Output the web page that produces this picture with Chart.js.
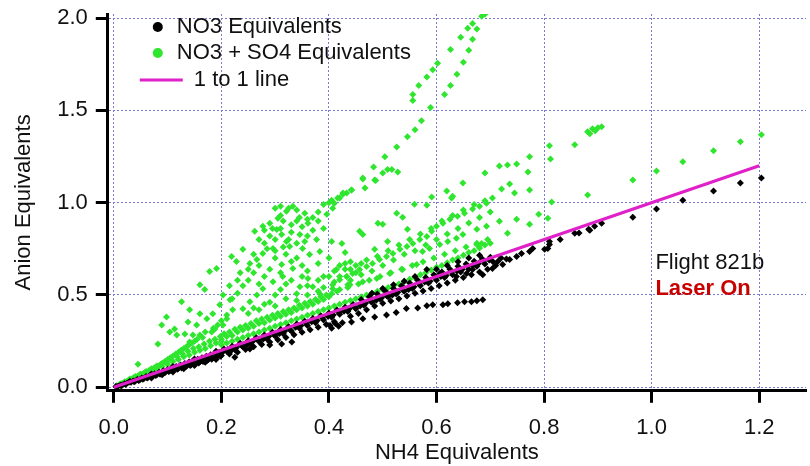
<!DOCTYPE html>
<html>
<head>
<meta charset="utf-8">
<script src="https://cdn.jsdelivr.net/npm/chart.js@4.4.0/dist/chart.umd.min.js"></script>
<style>
  html, body { margin: 0; padding: 0; background: #fff; }
  #wrap { width: 810px; height: 466px; }
</style>
</head>
<body>
<div id="wrap"><canvas id="chart" width="810" height="466"></canvas></div>
<script>
// tick values
const xTicks = [0, 0.2, 0.4, 0.6, 0.8, 1.0, 1.2];
const yTicks = [0, 0.5, 1.0, 1.5, 2.0];

// NO3 equivalents vs NH4 equivalents  [x, y]
const no3Points = [
  [0.004,0.004],[0.008,0.006],[0.012,0.011],[0.016,0.013],[0.02,0.019],[0.024,0.02],[0.028,0.027],[0.032,0.027],
  [0.036,0.034],[0.04,0.034],[0.044,0.043],[0.048,0.04],[0.052,0.05],[0.056,0.047],[0.06,0.058],[0.064,0.054],
  [0.068,0.066],[0.072,0.06],[0.076,0.074],[0.08,0.068],[0.084,0.081],[0.088,0.074],[0.092,0.09],[0.096,0.082],
  [0.1,0.097],[0.104,0.088],[0.108,0.105],[0.112,0.095],[0.116,0.113],[0.12,0.102],[0.124,0.121],[0.128,0.108],
  [0.132,0.129],[0.136,0.116],[0.14,0.137],[0.144,0.122],[0.148,0.145],[0.152,0.13],[0.156,0.152],[0.16,0.138],
  [0.164,0.16],[0.168,0.144],[0.172,0.168],[0.176,0.15],[0.18,0.176],[0.184,0.158],[0.188,0.184],[0.192,0.165],
  [0.196,0.19],[0.2,0.172],[0.07,0.05],[0.09,0.068],[0.11,0.083],[0.13,0.1],[0.15,0.118],[0.17,0.135],[0.19,0.15],
  [0.03,0.033],[0.07,0.072],[0.11,0.113],[0.15,0.153],[0.19,0.195],
  [0.006,0.003],[0.014,0.009],[0.022,0.016],[0.038,0.03],[0.046,0.037],[0.054,0.044],[0.062,0.05],[0.078,0.064],
  [0.086,0.07],[0.094,0.079],[0.102,0.085],[0.118,0.098],[0.126,0.105],[0.134,0.112],[0.142,0.118],[0.158,0.132],
  [0.166,0.14],[0.174,0.146],[0.182,0.152],[0.198,0.168],
  [0.205,0.208],[0.21,0.195],[0.215,0.18],[0.22,0.222],[0.225,0.205],[0.225,0.163],[0.23,0.19],[0.235,0.238],
  [0.24,0.22],[0.245,0.205],[0.25,0.252],[0.253,0.207],[0.255,0.235],[0.26,0.22],[0.265,0.268],[0.27,0.25],
  [0.275,0.232],[0.28,0.283],[0.285,0.262],[0.29,0.229],[0.29,0.245],[0.295,0.298],[0.3,0.278],[0.305,0.258],
  [0.31,0.313],[0.312,0.234],[0.315,0.29],[0.32,0.27],[0.325,0.328],[0.331,0.245],[0.33,0.305],[0.335,0.285],
  [0.34,0.343],[0.345,0.32],[0.35,0.298],[0.355,0.358],[0.36,0.335],[0.365,0.312],[0.37,0.373],[0.375,0.35],
  [0.38,0.325],[0.385,0.388],[0.39,0.365],[0.395,0.34],[0.4,0.403],[0.402,0.335],[0.405,0.38],[0.405,0.32],
  [0.41,0.355],[0.412,0.345],[0.415,0.418],[0.418,0.33],[0.42,0.395],[0.425,0.35],[0.43,0.433],[0.435,0.41],
  [0.44,0.385],[0.445,0.448],[0.45,0.425],[0.455,0.4],
  [0.202,0.19],[0.212,0.205],[0.218,0.198],[0.228,0.215],[0.238,0.225],[0.248,0.23],[0.258,0.248],[0.268,0.255],
  [0.278,0.262],[0.288,0.275],[0.298,0.285],[0.308,0.292],[0.318,0.305],[0.328,0.312],[0.338,0.325],[0.348,0.335],
  [0.358,0.345],[0.368,0.355],[0.378,0.362],[0.388,0.375],[0.398,0.385],[0.408,0.392],[0.418,0.405],[0.428,0.412],
  [0.438,0.425],[0.448,0.433],[0.458,0.44],[0.468,0.455],[0.478,0.465],[0.488,0.472],[0.498,0.485],[0.508,0.495],
  [0.518,0.5],[0.528,0.515],[0.538,0.525],[0.548,0.53],[0.558,0.545],[0.568,0.56],[0.578,0.57],[0.588,0.575],
  [0.598,0.59],[0.608,0.6],[0.618,0.605],[0.628,0.625],[0.638,0.63],[0.648,0.64],[0.658,0.655],[0.668,0.66],
  [0.678,0.67],[0.688,0.685],[0.698,0.69],
  [0.442,0.354],[0.463,0.371],[0.485,0.381],[0.507,0.392],[0.525,0.405],[0.544,0.427],[0.565,0.43],[0.582,0.441],
  [0.593,0.447],[0.612,0.447],[0.621,0.452],[0.639,0.458],[0.652,0.463],[0.665,0.463],[0.675,0.469],[0.686,0.474],
  [0.46,0.475],[0.465,0.445],[0.47,0.42],[0.475,0.49],[0.48,0.462],[0.485,0.44],[0.49,0.505],[0.495,0.478],
  [0.5,0.455],[0.505,0.52],[0.51,0.49],[0.515,0.468],[0.52,0.535],[0.525,0.505],[0.53,0.48],[0.535,0.55],
  [0.54,0.52],[0.545,0.495],[0.55,0.565],[0.555,0.535],[0.56,0.51],[0.565,0.58],[0.57,0.55],[0.575,0.522],
  [0.58,0.595],[0.582,0.638],[0.585,0.565],[0.59,0.535],[0.595,0.61],[0.6,0.58],[0.606,0.616],[0.605,0.55],
  [0.61,0.625],[0.615,0.595],[0.62,0.565],[0.625,0.64],[0.63,0.61],[0.637,0.6],[0.635,0.58],[0.64,0.655],
  [0.645,0.625],[0.65,0.595],[0.656,0.616],[0.655,0.668],[0.66,0.64],[0.667,0.638],[0.665,0.61],[0.67,0.682],
  [0.675,0.655],[0.68,0.625],[0.686,0.61],[0.685,0.695],[0.69,0.668],[0.695,0.64],[0.7,0.705],[0.704,0.643],
  [0.705,0.68],[0.71,0.66],[0.714,0.681],[0.72,0.7],[0.723,0.665],
  [0.48,0.51],[0.5,0.535],[0.52,0.555],[0.54,0.575],[0.56,0.6],[0.6,0.64],[0.62,0.66],[0.64,0.68],[0.66,0.7],[0.68,0.715],
  [0.73,0.695],[0.736,0.692],[0.749,0.708],[0.758,0.725],[0.773,0.736],[0.779,0.752],[0.801,0.747],[0.807,0.752],
  [0.81,0.774],[0.81,0.79],[0.83,0.8],[0.857,0.834],[0.865,0.835],[0.883,0.856],[0.885,0.85],[0.894,0.872],
  [0.907,0.888],[0.965,0.921],[1.009,0.965],[1.058,1.013],[1.115,1.063],[1.165,1.106],[1.204,1.134]
];

// NO3 + SO4 equivalents vs NH4 equivalents  [x, y]
const no3So4Points = [
  [0.005,0.008],[0.01,0.013],[0.015,0.02],[0.02,0.026],[0.02,0.03],[0.025,0.034],[0.03,0.038],[0.03,0.045],
  [0.035,0.048],[0.04,0.05],[0.04,0.058],[0.045,0.062],[0.045,0.125],[0.05,0.063],[0.05,0.072],[0.055,0.075],
  [0.06,0.075],[0.06,0.085],[0.065,0.09],[0.07,0.088],[0.07,0.1],[0.075,0.105],[0.08,0.1],[0.08,0.115],
  [0.082,0.234],[0.085,0.12],[0.089,0.338],[0.09,0.112],[0.09,0.13],[0.095,0.14],[0.098,0.381],[0.1,0.125],
  [0.1,0.15],[0.104,0.3],[0.105,0.16],[0.11,0.14],[0.11,0.17],[0.113,0.316],[0.115,0.18],[0.117,0.283],
  [0.12,0.15],[0.12,0.19],[0.125,0.2],[0.126,0.463],[0.13,0.165],[0.13,0.21],[0.132,0.289],[0.135,0.22],
  [0.138,0.354],[0.14,0.175],[0.14,0.23],[0.141,0.42],[0.141,0.245],[0.145,0.24],[0.147,0.283],[0.15,0.19],
  [0.15,0.25],[0.154,0.338],[0.155,0.26],[0.16,0.2],[0.16,0.283],[0.16,0.398],[0.16,0.556],[0.165,0.27],
  [0.169,0.529],[0.17,0.21],[0.17,0.3],[0.173,0.371],[0.178,0.627],[0.18,0.225],[0.182,0.3],[0.184,0.398],
  [0.185,0.32],[0.188,0.316],[0.19,0.24],[0.191,0.643],[0.193,0.338],[0.197,0.447],[0.2,0.25],[0.2,0.36],
  [0.203,0.338],[0.203,0.5],[0.21,0.392],[0.21,0.371],[0.216,0.474],[0.221,0.42],
  [0.012,0.018],[0.018,0.022],[0.028,0.04],[0.038,0.055],[0.048,0.068],[0.058,0.08],[0.068,0.095],[0.078,0.11],
  [0.088,0.125],[0.098,0.135],[0.108,0.145],[0.118,0.165],[0.128,0.18],[0.138,0.195],[0.148,0.21],[0.158,0.22],
  [0.168,0.235],[0.178,0.25],[0.188,0.26],[0.198,0.275],[0.205,0.29],[0.215,0.3],[0.225,0.315],[0.235,0.325],
  [0.245,0.335],[0.255,0.345],[0.265,0.36],[0.275,0.37],[0.285,0.38],[0.295,0.39],[0.305,0.4],[0.315,0.41],
  [0.325,0.42],[0.335,0.43],[0.345,0.445],[0.355,0.455],[0.365,0.465],[0.375,0.475],[0.385,0.49],[0.395,0.5],
  [0.415,0.52],[0.435,0.54],[0.455,0.56],[0.475,0.58],[0.495,0.6],[0.515,0.62],[0.535,0.64],[0.555,0.66],
  [0.575,0.68],[0.595,0.7],[0.615,0.72],[0.635,0.74],[0.655,0.76],[0.675,0.78],[0.695,0.8],
  [0.2,0.23],[0.2,0.26],[0.21,0.24],[0.21,0.275],[0.22,0.25],[0.22,0.28],[0.23,0.26],[0.23,0.3],[0.24,0.27],
  [0.24,0.31],[0.25,0.28],[0.25,0.32],[0.26,0.29],[0.26,0.33],[0.27,0.3],[0.27,0.345],[0.28,0.31],[0.28,0.35],
  [0.29,0.32],[0.29,0.365],[0.3,0.33],[0.3,0.375],[0.31,0.34],[0.31,0.385],[0.32,0.35],[0.32,0.395],[0.33,0.36],
  [0.33,0.405],[0.34,0.37],[0.34,0.42],[0.35,0.38],[0.35,0.43],[0.36,0.39],[0.36,0.44],[0.37,0.4],[0.37,0.45],
  [0.38,0.41],[0.38,0.465],[0.39,0.42],[0.39,0.475],[0.4,0.43],[0.4,0.49],[0.405,0.507],[0.41,0.44],[0.42,0.529],
  [0.42,0.45],[0.43,0.46],[0.439,0.556],[0.44,0.47],[0.45,0.48],[0.463,0.572],[0.46,0.49],[0.47,0.5],[0.48,0.51],
  [0.489,0.589],[0.49,0.52],[0.5,0.53],[0.51,0.54],[0.513,0.616],[0.52,0.55],[0.53,0.56],[0.537,0.638],[0.54,0.575],
  [0.55,0.585],[0.56,0.595],[0.563,0.665],[0.57,0.61],[0.58,0.62],[0.59,0.635],[0.6,0.65],[0.61,0.66],[0.62,0.675],
  [0.63,0.69],[0.64,0.7],[0.65,0.715],[0.66,0.73],[0.67,0.74],[0.68,0.755],[0.69,0.77],[0.7,0.78],
  [0.24,0.425],[0.253,0.463],[0.266,0.5],[0.277,0.534],[0.296,0.572],[0.314,0.6],[0.312,0.665],[0.33,0.681],
  [0.333,0.643],[0.351,0.752],[0.364,0.719],[0.377,0.801],[0.383,0.736],[0.405,0.79],[0.414,0.638],[0.433,0.6],
  [0.361,0.589],[0.346,0.545],[0.37,0.545],[0.34,0.507],[0.383,0.507],[0.407,0.534],[0.435,0.556],
  [0.3,0.5],[0.31,0.53],[0.32,0.56],[0.33,0.58],[0.35,0.6],[0.36,0.55],[0.38,0.58],[0.39,0.54],[0.4,0.6],
  [0.41,0.63],[0.42,0.6],[0.43,0.67],[0.44,0.64],[0.46,0.67],[0.29,0.46],[0.3,0.44],[0.32,0.48],[0.34,0.47],
  [0.36,0.5],[0.38,0.52],[0.26,0.43],[0.28,0.45],[0.25,0.4],[0.27,0.42],
  [0.333,0.981],[0.321,0.954],[0.355,0.943],[0.361,0.888],[0.396,0.937],[0.407,0.97],[0.42,1.025],[0.433,1.052],
  [0.305,0.916],[0.29,0.888],[0.277,0.872],[0.262,0.845],[0.303,0.855],[0.312,0.828],[0.321,0.79],[0.346,0.828],
  [0.327,0.763],[0.296,0.752],[0.277,0.725],[0.266,0.692],[0.253,0.67],[0.24,0.747],[0.219,0.708],[0.228,0.681],
  [0.3,0.97],[0.31,0.93],[0.34,0.9],[0.35,0.87],[0.33,0.84],[0.36,0.82],[0.37,0.85],[0.38,0.9],[0.39,0.86],
  [0.3,0.8],[0.28,0.78],[0.29,0.82],[0.27,0.8],[0.32,0.72],[0.34,0.7],[0.35,0.66],[0.3,0.7],[0.29,0.64],
  [0.31,0.62],[0.26,0.62],[0.28,0.6],[0.25,0.58],[0.27,0.56],[0.24,0.55],[0.23,0.51],[0.22,0.48],[0.36,0.63],
  [0.38,0.67],[0.4,0.7],[0.39,0.6],[0.41,0.57],[0.42,0.66],[0.44,0.68],[0.43,0.73],[0.45,0.62],
  [0.31,0.98],[0.325,0.97],[0.34,0.96],[0.345,0.92],[0.315,0.9],[0.33,0.88],[0.36,0.91],[0.37,0.92],[0.38,0.95],
  [0.39,0.99],[0.4,1.0],[0.28,0.85],[0.295,0.86],[0.31,0.86],[0.325,0.8],[0.34,0.78],[0.355,0.79],[0.285,0.75],
  [0.3,0.74],[0.315,0.76],[0.26,0.72],[0.27,0.66],[0.25,0.64],[0.235,0.62],[0.23,0.58],[0.215,0.55],
  [0.407,0.556],[0.42,0.583],[0.433,0.6],[0.444,0.616],[0.457,0.638],[0.47,0.654],[0.481,0.67],[0.494,0.692],
  [0.507,0.708],[0.519,0.725],[0.532,0.747],[0.545,0.763],[0.556,0.779],[0.569,0.801],[0.582,0.817],[0.591,0.845],
  [0.6,0.872],[0.612,0.888],[0.625,0.91],[0.639,0.926],[0.652,0.943],[0.667,0.965],[0.68,0.981],[0.693,0.997],
  [0.704,1.025],[0.43,0.64],[0.45,0.66],[0.47,0.69],[0.49,0.71],[0.51,0.74],[0.53,0.77],[0.55,0.8],[0.57,0.83],
  [0.59,0.86],[0.61,0.9],[0.63,0.93],[0.65,0.96],[0.67,0.99],[0.69,1.01],[0.44,0.58],[0.46,0.61],[0.48,0.63],
  [0.5,0.66],[0.52,0.69],[0.54,0.72],[0.56,0.74],[0.58,0.77],[0.6,0.8],[0.62,0.83],[0.64,0.86],[0.66,0.89],
  [0.68,0.92],[0.7,0.95],
  [0.717,0.899],[0.693,0.872],[0.675,0.856],[0.649,0.828],[0.637,0.807],[0.621,0.79],[0.606,0.774],[0.587,0.752],
  [0.574,0.736],[0.684,0.779],[0.675,0.774],[0.732,0.834],[0.773,0.883],[0.749,0.91],[0.79,0.937],[0.807,0.916],
  [0.814,1.003],[0.881,1.041],
  [0.526,0.943],[0.537,0.921],[0.491,0.888],[0.5,0.883],[0.457,0.845],[0.463,0.828],[0.546,0.856],[0.424,0.779],
  [0.485,0.747],[0.509,0.79],[0.619,1.063],[0.628,1.025],[0.591,1.03],[0.559,0.992],[0.582,0.986],
  [0.649,1.106],[0.69,1.161],[0.717,1.199],[0.732,1.204],[0.749,1.21],[0.773,1.248],[0.77,1.166],[0.736,1.101],
  [0.721,1.074],[0.745,1.052],[0.773,1.068],[0.63,1.035],
  [0.81,1.308],[0.857,1.313],[0.812,1.237],
  [0.881,1.384],[0.89,1.4],[0.9,1.406],[0.907,1.411],[0.885,1.373],[0.895,1.39],
  [0.965,1.123],[1.009,1.172],[1.058,1.221],[1.115,1.281],[1.165,1.33],[1.204,1.368],
  [0.41,0.997],[0.416,1.025],[0.426,1.052],[0.442,1.068],[0.467,1.079],[0.463,1.133],[0.485,1.123],[0.5,1.16],
  [0.509,1.18],[0.517,1.18],[0.528,1.166],[0.487,1.12],[0.405,1.013],
  [0.426,1.046],[0.442,1.068],[0.463,1.128],[0.483,1.193],[0.504,1.248],[0.526,1.302],[0.546,1.357],[0.56,1.395],
  [0.572,1.444],[0.589,1.515],[0.615,1.586],[0.626,1.635],[0.638,1.695],[0.65,1.76],[0.66,1.826],[0.667,1.885],
  [0.675,1.94],
  [0.556,1.553],[0.556,1.586],[0.567,1.635],[0.582,1.68],[0.593,1.72],[0.602,1.755],[0.626,1.83],[0.645,1.896],
  [0.658,1.945],[0.667,1.97],[0.684,2.01],[0.69,2.02]
];

// 1 to 1 reference line
const lineX = [0, 1.2];
const lineY = [0, 1.2];

const seriesNames = ['NO3 Equivalents', 'NO3 + SO4 Equivalents', '1 to 1 line'];
const seriesColors = ['#000000', '#2ee62e', '#e020c8'];

const FONT = '"Liberation Sans", Arial, sans-serif';
const gridColor = '#7a7ad0';

function toXY(pts) {
  return pts.map(p => ({ x: p[0], y: p[1] }));
}

// legend + flight note drawn inside the plot area
const insideLegend = {
  id: 'insideLegend',
  afterDraw(chart) {
    const ctx = chart.ctx;
    const a = chart.chartArea;
    const lx = a.left;
    const ly = a.top;
    ctx.save();
    ctx.font = '22px ' + FONT;
    ctx.textBaseline = 'middle';
    ctx.textAlign = 'left';

    ctx.fillStyle = seriesColors[0];
    ctx.beginPath();
    ctx.arc(lx + 50, ly + 13, 5, 0, Math.PI * 2);
    ctx.fill();
    ctx.fillStyle = seriesColors[1];
    ctx.beginPath();
    ctx.arc(lx + 50, ly + 39, 5, 0, Math.PI * 2);
    ctx.fill();
    ctx.strokeStyle = seriesColors[2];
    ctx.lineWidth = 3;
    ctx.beginPath();
    ctx.moveTo(lx + 32, ly + 66);
    ctx.lineTo(lx + 75, ly + 66);
    ctx.stroke();

    ctx.fillStyle = '#111';
    ctx.fillText(seriesNames[0], lx + 69, ly + 13);
    ctx.fillText(seriesNames[1], lx + 69, ly + 39);
    ctx.fillText(seriesNames[2], lx + 86, ly + 66);

    // flight note
    const xs = chart.scales.x;
    const ys = chart.scales.y;
    const nx = xs.getPixelForValue(1.007);
    ctx.fillStyle = '#111';
    ctx.fillText('Flight 821b', nx, ys.getPixelForValue(0.672));
    ctx.font = 'bold 22px ' + FONT;
    ctx.fillStyle = '#c80000';
    ctx.fillText('Laser On', nx, ys.getPixelForValue(0.53));
    ctx.restore();
  }
};

function noEdgePadding(scale) {
  scale.paddingTop = 0;
  scale.paddingBottom = 0;
  scale.paddingLeft = 0;
  scale.paddingRight = 0;
}

const gridOpts = {
  color: gridColor,
  lineWidth: 1,
  borderDash: [2, 2],
  drawTicks: true,
  tickLength: 12,
  tickWidth: 3,
  tickColor: '#000',
  tickBorderDash: []
};

new Chart(document.getElementById('chart'), {
  type: 'scatter',
  data: {
    datasets: [
      {
        type: 'line',
        label: seriesNames[2],
        data: lineX.map((x, i) => ({ x: x, y: lineY[i] })),
        borderColor: seriesColors[2],
        borderWidth: 3,
        pointRadius: 0,
        fill: false,
        order: 0
      },
      {
        label: seriesNames[0],
        data: toXY(no3Points),
        backgroundColor: seriesColors[0],
        borderWidth: 0,
        pointStyle: 'rectRot',
        pointRadius: 3.5,
        order: 1
      },
      {
        label: seriesNames[1],
        data: toXY(no3So4Points),
        backgroundColor: seriesColors[1],
        borderWidth: 0,
        pointStyle: 'rectRot',
        pointRadius: 3.5,
        order: 2
      }
    ]
  },
  options: {
    responsive: false,
    animation: false,
    devicePixelRatio: 1,
    layout: { padding: { left: 0, right: 0, top: 14, bottom: 0 } },
    plugins: {
      legend: { display: false },
      tooltip: { enabled: false }
    },
    scales: {
      x: {
        type: 'linear',
        min: -0.0112,
        max: 1.287,
        afterBuildTicks: axis => { axis.ticks = xTicks.map(v => ({ value: v })); },
        afterFit: noEdgePadding,
        grid: gridOpts,
        border: { display: true, color: '#000', width: 3, dash: [2, 2] },
        ticks: {
          padding: 12,
          color: '#111',
          maxRotation: 0,
          font: { family: FONT, size: 22 },
          callback: v => Number(v).toFixed(1)
        },
        title: {
          display: true,
          text: 'NH4 Equivalents',
          color: '#111',
          font: { family: FONT, size: 22 },
          padding: { top: -13.6, bottom: 0 }
        }
      },
      y: {
        type: 'linear',
        min: -0.019,
        max: 2.0218,
        afterBuildTicks: axis => { axis.ticks = yTicks.map(v => ({ value: v })); },
        afterFit: noEdgePadding,
        grid: gridOpts,
        border: { display: true, color: '#000', width: 3, dash: [2, 2] },
        ticks: {
          padding: 8,
          color: '#111',
          font: { family: FONT, size: 22 },
          callback: v => Number(v).toFixed(1)
        },
        title: {
          display: true,
          text: 'Anion Equivalents',
          color: '#111',
          font: { family: FONT, size: 22 },
          padding: { top: 10.8, bottom: 12 }
        }
      }
    }
  },
  plugins: [insideLegend]
});
</script>
</body>
</html>
